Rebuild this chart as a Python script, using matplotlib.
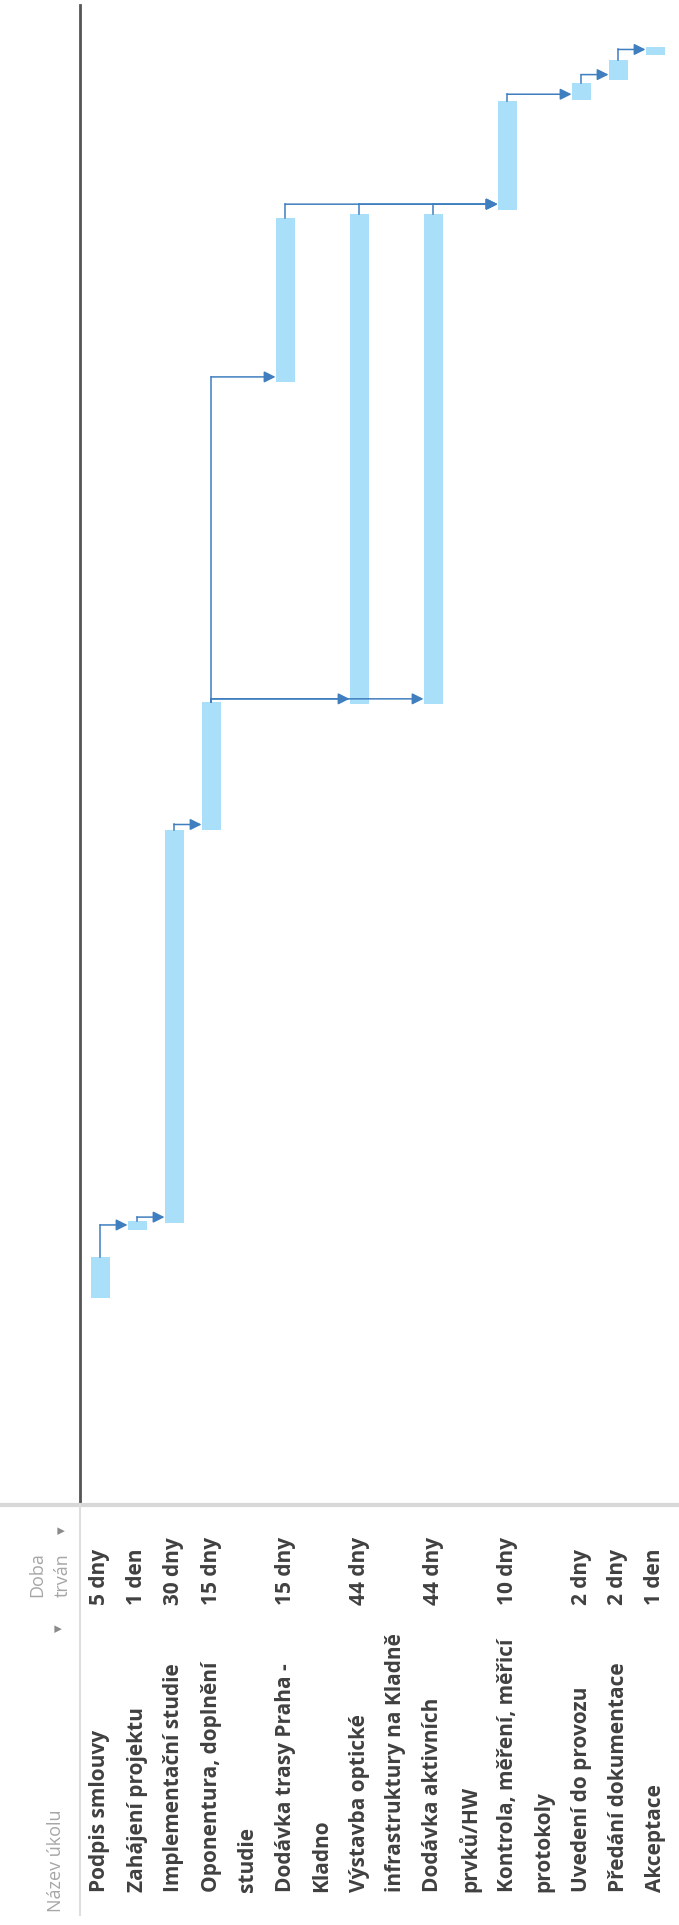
import matplotlib.pyplot as plt

# tasks (row order, left -> right in the rotated page)
task_names = [
    ["Podpis smlouvy"],
    ["Zahájení projektu"],
    ["Implementační studie"],
    ["Oponentura, doplnění", "studie"],
    ["Dodávka trasy Praha -", "Kladno"],
    ["Výstavba optické", "infrastruktury na Kladně"],
    ["Dodávka aktivních", "prvků/HW"],
    ["Kontrola, měření, měřicí", "protokoly"],
    ["Uvedení do provozu"],
    ["Předání dokumentace"],
    ["Akceptace"],
]
durations = ["5 dny", "1 den", "30 dny", "15 dny", "15 dny", "44 dny",
             "44 dny", "10 dny", "2 dny", "2 dny", "1 den"]

# bar start / length in calendar days
start_days = [-0.6, 8, 9, 59, 116, 75, 75, 138, 152, 154.5, 157.7]
length_days = [5.2, 1.2, 50, 16.3, 21, 62.5, 62.5, 13.8, 2.1, 2.5, 1.0]

# finish-to-start links (predecessor, successor)
links = [(0, 1), (1, 2), (2, 3), (3, 5), (3, 6), (3, 4),
         (4, 7), (5, 7), (6, 7), (7, 8), (8, 9), (9, 10)]

BAR = "#a9dff9"
LINK = "#3f7fbf"
TXT = "#404040"
HDR = "#a6a6a6"
FONT = ["Open Sans", "DejaVu Sans"]

W, H = 679, 1925
LINE = 37.0          # px per text line
X0 = 81.0            # left edge of first row
SEP = 1505.0         # chart / table divider
TOP_T = 164.7
BOT_T = TOP_T - (TOP_T + 27.6) * SEP / 1510.0

fig = plt.figure(figsize=(W / 100, H / 100), dpi=100)

# background axes in pixel units for table text and frame lines
bg = fig.add_axes([0, 0, 1, 1])
bg.set_xlim(0, W)
bg.set_ylim(H, 0)
bg.set_axis_off()

bg.plot([80, 80], [5, SEP], color="#555555", lw=2)
bg.plot([0, W], [SEP, SEP], color="#d8d8d8", lw=3)
bg.plot([80, 80], [SEP, 1915], color="#dedede", lw=1.5)

# row positions in line units
row_start = []
acc = 0
for names in task_names:
    row_start.append(acc)
    acc += len(names)
centers = [s + 19 / LINE for s in row_start]

for i, names in enumerate(task_names):
    for j, t in enumerate(names):
        x = X0 + (row_start[i] + j) * LINE + 19
        bg.text(x, 1892, t, rotation=90, rotation_mode="anchor",
                ha="left", va="center", fontsize=15, color=TXT,
                family=FONT, fontweight="bold")
    bg.text(X0 + row_start[i] * LINE + 19, 1605, durations[i], rotation=90,
            rotation_mode="anchor", ha="left", va="center", fontsize=15,
            color=TXT, family=FONT, fontweight="bold")

bg.text(56, 1912, "Název úkolu", rotation=90, rotation_mode="anchor",
        ha="left", va="center", fontsize=13, color=HDR, family=FONT)
bg.text(60, 1632, "▾", rotation=90, rotation_mode="anchor",
        ha="left", va="center", fontsize=11, color="#8a8a8a", family=FONT)
bg.text(37, 1597, "Doba", rotation=90, rotation_mode="anchor",
        ha="left", va="center", fontsize=13, color=HDR, family=FONT)
bg.text(63, 1597, "trván", rotation=90, rotation_mode="anchor",
        ha="left", va="center", fontsize=13, color=HDR, family=FONT)
bg.text(63, 1534, "▾", rotation=90, rotation_mode="anchor",
        ha="left", va="center", fontsize=11, color="#8a8a8a", family=FONT)

# gantt axes: x = rows (line units), y = days
ax = fig.add_axes([X0 / W, 1 - SEP / H, (W - X0) / W, SEP / H])
ax.set_xlim(0, (W - X0) / LINE)
ax.set_ylim(BOT_T, TOP_T)
ax.set_axis_off()
ax.patch.set_alpha(0)

bw = 19 / LINE
ax.bar(centers, length_days, bottom=start_days, width=bw, color=BAR,
       edgecolor="none", zorder=2)

for p, s in links:
    xp = centers[p]
    yp = start_days[p] + length_days[p]
    ya = start_days[s] + 0.7
    xs = centers[s] - bw / 2
    ax.plot([xp, xp], [yp, ya], color=LINK, lw=1.1, zorder=3)
    ax.annotate("", xy=(xs, ya), xytext=(xp, ya),
                arrowprops=dict(arrowstyle="-|>", color=LINK, lw=1.1,
                                mutation_scale=17, shrinkA=0, shrinkB=0),
                zorder=4)

fig.savefig("out.png", dpi=100)
